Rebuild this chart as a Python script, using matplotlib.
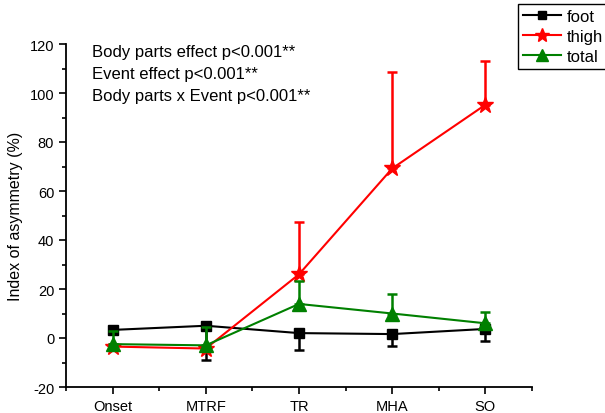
import matplotlib
matplotlib.use("Agg")
import matplotlib.pyplot as plt
from matplotlib.lines import Line2D
from matplotlib.ticker import MultipleLocator, FixedLocator
import numpy as np

plt.rcParams['font.family'] = ['Liberation Sans', 'DejaVu Sans']
plt.rcParams['axes.unicode_minus'] = False

events = ["Onset", "MTRF", "TR", "MHA", "SO"]

foot = [3.3, 5.0, 2.0, 1.6, 3.7]
foot_err_low = [1.5, 13.8, 6.8, 4.7, 4.9]

thigh = [-3.5, -4.3, 26.0, 69.2, 95.2]
thigh_err_up = [1.0, 1.0, 21.5, 39.2, 17.8]

total = [-2.5, -3.0, 13.9, 10.0, 6.0]
total_err_up = [5.5, 7.5, 9.5, 8.0, 4.7]

annot = ["Body parts effect p<0.001**",
         "Event effect p<0.001**",
         "Body parts x Event p<0.001**"]

fig = plt.figure(figsize=(6.05, 4.14), dpi=100)
W, H = 605, 414
ax = fig.add_axes([66 / W, 1 - 388 / H, (532 - 66) / W, (388 - 45) / H])

x = np.arange(1, len(events) + 1)
zeros = [0] * len(events)

common = dict(lw=1.5, capsize=3.5, capthick=1.8, elinewidth=1.8)
ax.errorbar(x, foot, yerr=[foot_err_low, zeros], color='black',
            marker='s', ms=7, zorder=3, **common)
ax.errorbar(x, thigh, yerr=[zeros, thigh_err_up], color='red',
            marker='*', ms=12, zorder=4, **common)
ax.errorbar(x, total, yerr=[zeros, total_err_up], color='green',
            marker='^', ms=10, zorder=5, **common)

ax.set_xlim(0.5, 5.5)
ax.set_ylim(-20, 120)
ax.set_xticks(x)
ax.set_xticklabels(events)
ax.xaxis.set_minor_locator(FixedLocator(np.arange(0.5, 5.6, 1.0)))
ax.yaxis.set_major_locator(MultipleLocator(20))
ax.yaxis.set_minor_locator(MultipleLocator(10))
ax.tick_params(axis='both', which='major', direction='out', length=5, width=1.2,
               labelsize=10.5)
ax.tick_params(axis='both', which='minor', direction='out', length=3, width=1.2)
ax.tick_params(axis='x', pad=4)

for s in ['top', 'right']:
    ax.spines[s].set_visible(False)
for s in ['left', 'bottom']:
    ax.spines[s].set_linewidth(1.3)

ax.set_ylabel("Index of asymmetry (%)", fontsize=11.5, labelpad=5)

for i, t in enumerate(annot):
    fig.text(92 / W, 1 - (53 + 22 * i) / H, t, fontsize=12, va='center',
             ha='left')

handles = [
    Line2D([], [], color='black', lw=1.5, marker='s', ms=6),
    Line2D([], [], color='red', lw=1.5, marker='*', ms=10),
    Line2D([], [], color='green', lw=1.5, marker='^', ms=8),
]
leg = fig.legend(handles=handles, labels=['foot', 'thigh', 'total'],
                 loc='upper left', bbox_to_anchor=(518 / W, 1 - 5 / H),
                 fontsize=12, frameon=True, fancybox=False, framealpha=1,
                 edgecolor='black', borderpad=0.3, labelspacing=0.3,
                 handlelength=2.3, handletextpad=0.3, borderaxespad=0)
leg.get_frame().set_linewidth(1.0)

fig.savefig("out.png", dpi=100)
